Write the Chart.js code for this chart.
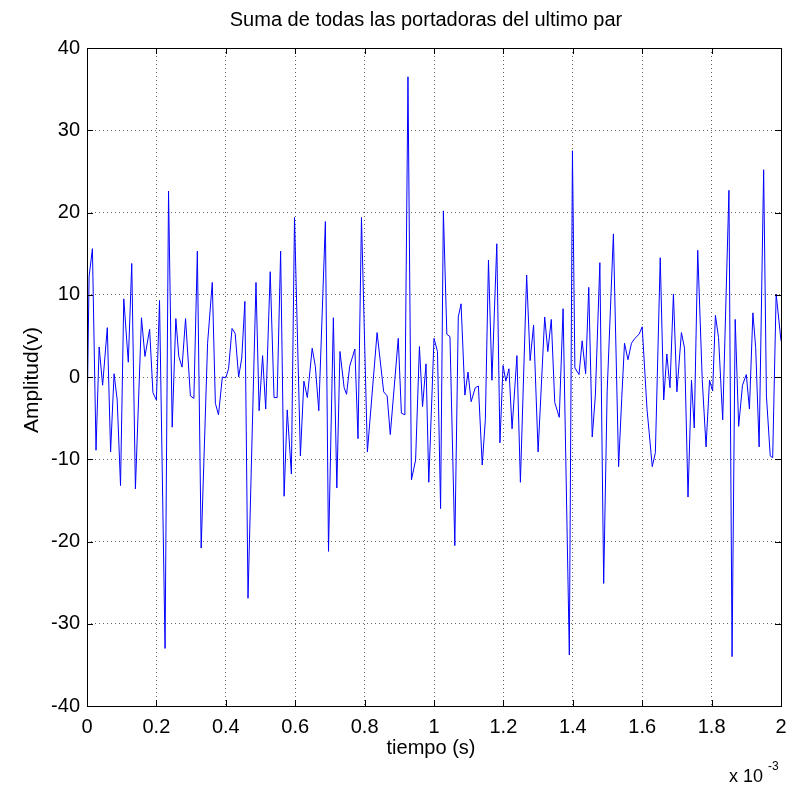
<!DOCTYPE html>
<html>
<head>
<meta charset="utf-8">
<script src="https://cdn.jsdelivr.net/npm/chart.js@4/dist/chart.umd.min.js"></script>
<style>
html,body{margin:0;padding:0;background:#fff;}
#wrap{width:803px;height:787px;position:relative;}
</style>
</head>
<body>
<div id="wrap"><canvas id="c" width="803" height="787"></canvas></div>
<script>
// time in units of 1e-3 s
const tiempo = [
0,0.006,0.0156,0.026,0.035,0.045,0.0585,0.068,0.078,0.087,0.0966,0.106,0.119,0.129,0.1395,0.157,0.167,0.1805,0.19,0.2,
0.209,0.225,0.235,0.2455,0.256,0.2645,0.274,0.284,0.298,0.308,0.318,0.329,0.3475,0.361,0.370,0.379,0.39,0.40,
0.408,0.418,0.427,0.437,0.446,0.455,0.464,0.487,0.496,0.506,0.515,0.528,0.539,0.548,0.558,0.568,0.577,0.589,0.598,
0.615,0.625,0.635,0.649,0.658,0.668,0.687,0.696,0.71,0.72,0.729,0.741,0.748,0.757,0.772,0.781,0.791,
0.808,0.836,0.855,0.865,0.874,0.897,0.906,0.916,0.925,0.935,0.947,0.958,0.967,0.977,0.985,1.0,
1.01,1.019,1.027,1.037,1.046,1.06,1.07,1.078,1.089,1.098,1.107,1.119,1.128,1.139,1.148,1.157,1.167,1.181,1.19,1.199,
1.207,1.216,1.225,1.239,1.249,1.267,1.277,1.287,1.3,1.319,1.328,1.338,1.348,1.361,1.372,1.39,1.399,
1.406,1.418,1.427,1.437,1.446,1.456,1.465,1.478,1.489,1.499,1.517,1.532,1.541,1.549,1.559,1.569,1.579,1.591,1.6,
1.614,1.62,1.629,1.638,1.652,1.662,1.671,1.68,1.69,1.7,1.713,1.722,1.732,1.742,1.75,1.76,1.773,1.784,1.794,1.803,
1.811,1.82,1.832,1.85,1.859,1.868,1.878,1.889,1.9,1.909,1.919,1.927,1.937,1.95,1.958,1.969,1.976,1.986,2.0
];
const amplitud = [
-5.7,12.2,15.6,-8.9,3.65,-1.0,6.0,-9.1,0.4,-2.8,-13.2,9.5,1.8,13.8,-13.6,7.2,2.5,5.8,-1.9,-2.8,
9.3,-33,22.6,-6.1,7.1,2.5,1.2,7.1,-2.3,-2.6,15.3,-20.8,4.1,11.5,-3.2,-4.6,0,-0.1,
1.0,5.9,5.3,0,2.3,9.2,-26.9,11.5,-4.1,2.6,-3.9,12.8,-2.5,-2.5,15.3,-14.5,-4.0,-11.8,19.4,
-9.6,-0.5,-2.5,3.5,1.3,-4.1,18.9,-21.2,7.2,-13.5,3.1,-1.3,-2.1,1.3,3.4,-7.5,19.4,
-9.1,5.4,-1.8,-2.3,-7.0,4.7,-4.4,-4.6,36.5,-12.5,-10.1,3.7,-3.6,1.6,-12.8,4.7,
3.1,-16,20.2,5.2,4.9,-20.5,7.3,8.9,-2.2,0.6,-3.0,-1.3,-1.1,-10.7,-5.2,14.2,-0.4,16.2,-8.0,1.4,
-0.5,1.0,-6.3,2.6,-12.8,12.4,2.0,6.3,-9.1,7.3,3.1,7.0,-3.1,-4.9,8.3,-33.8,27.5,
1.1,0.3,4.4,0.4,10.9,-7.3,-2.3,13.9,-25.1,-1.8,17.4,-10.9,-2.6,4.1,2.1,4.1,4.7,5.2,6.1,
-4.0,-6.7,-10.9,-9.2,14.5,-2.8,2.8,-1.3,10.1,-1.8,5.4,3.5,-14.6,-0.4,-6.2,15.4,-0.3,-8.5,-0.4,-1.7,
7.5,4.8,-5.2,22.7,-34,7.0,-6.0,-1.0,0.3,-3.9,7.8,3.6,-8.5,25.2,-2.3,-9.6,-9.8,10.1,4.4
];
const xTicks = [0,0.2,0.4,0.6,0.8,1,1.2,1.4,1.6,1.8,2];
const yTicks = [-40,-30,-20,-10,0,10,20,30,40];
const tituloTexto = "Suma de todas las portadoras del ultimo par";
const xTitulo = "tiempo (s)";
const yTitulo = "Amplitud(v)";

const FONT = "'Liberation Sans', Arial, sans-serif";
const points = tiempo.map((t,i)=>({x:t,y:amplitud[i]}));

const decor = {
  id:'decor',
  afterDraw(chart){
    const ctx = chart.ctx, a = chart.chartArea;
    const xs = chart.scales.x, ys = chart.scales.y;
    ctx.save();
    ctx.strokeStyle = '#000'; ctx.lineWidth = 1; ctx.setLineDash([]);
    ctx.beginPath();
    const L = 6;
    yTicks.forEach(v=>{
      const y = Math.round(ys.getPixelForValue(v))+0.5;
      ctx.moveTo(a.left, y); ctx.lineTo(a.left+L, y);
      ctx.moveTo(a.right, y); ctx.lineTo(a.right-L, y);
    });
    xTicks.forEach(v=>{
      const x = Math.round(xs.getPixelForValue(v))+0.5;
      ctx.moveTo(x, a.bottom); ctx.lineTo(x, a.bottom-L);
      ctx.moveTo(x, a.top); ctx.lineTo(x, a.top+L);
    });
    ctx.stroke();
    ctx.strokeRect(Math.round(a.left)+0.5, Math.round(a.top)+0.5, Math.round(a.right-a.left), Math.round(a.bottom-a.top));
    ctx.fillStyle = '#000';
    ctx.textAlign = 'center'; ctx.textBaseline = 'middle';
    ctx.font = '20px ' + FONT;
    ctx.fillText(tituloTexto, 426, 20);
    ctx.font = '20px ' + FONT;
    ctx.fillText(xTitulo, 431, 748);
    ctx.save();
    ctx.translate(32, 380);
    ctx.rotate(-Math.PI/2);
    ctx.font = '21px ' + FONT;
    ctx.fillText(yTitulo, 0, 0);
    ctx.restore();
    ctx.textAlign = 'left'; ctx.textBaseline = 'alphabetic';
    ctx.font = '18px ' + FONT;
    ctx.fillText('x 10', 729, 782);
    ctx.font = '12px ' + FONT;
    ctx.fillText('-3', 768, 770);
    ctx.restore();
  }
};

new Chart(document.getElementById('c'), {
  type:'line',
  data:{datasets:[{data:points, borderColor:'#0000ff', borderWidth:1, pointRadius:0, tension:0, fill:false}]},
  options:{
    responsive:false, animation:false, devicePixelRatio:1,
    layout:{padding:{left:0,right:22,top:48,bottom:0}},
    plugins:{ legend:{display:false}, tooltip:{enabled:false}, title:{display:false} },
    scales:{
      x:{type:'linear', min:0, max:2,
        afterBuildTicks(s){ s.ticks = xTicks.map(v=>({value:v})); },
        afterFit(s){ s.height = 81; },
        ticks:{color:'#000', font:{family:FONT,size:20}, padding:9, maxRotation:0, autoSkip:false,
          callback:(v)=>String(Number(v.toFixed(1)))},
        grid:{color:'rgba(0,0,0,0.6)', drawTicks:false, tickLength:0},
        border:{display:false, dash:[1,3]}
      },
      y:{type:'linear', min:-40, max:40,
        afterBuildTicks(s){ s.ticks = yTicks.map(v=>({value:v})); },
        afterFit(s){ s.width = 87; },
        ticks:{color:'#000', font:{family:FONT,size:20}, padding:7, autoSkip:false},
        grid:{color:'rgba(0,0,0,0.6)', drawTicks:false, tickLength:0},
        border:{display:false, dash:[1,3]}
      }
    }
  },
  plugins:[decor]
});
</script>
</body>
</html>
